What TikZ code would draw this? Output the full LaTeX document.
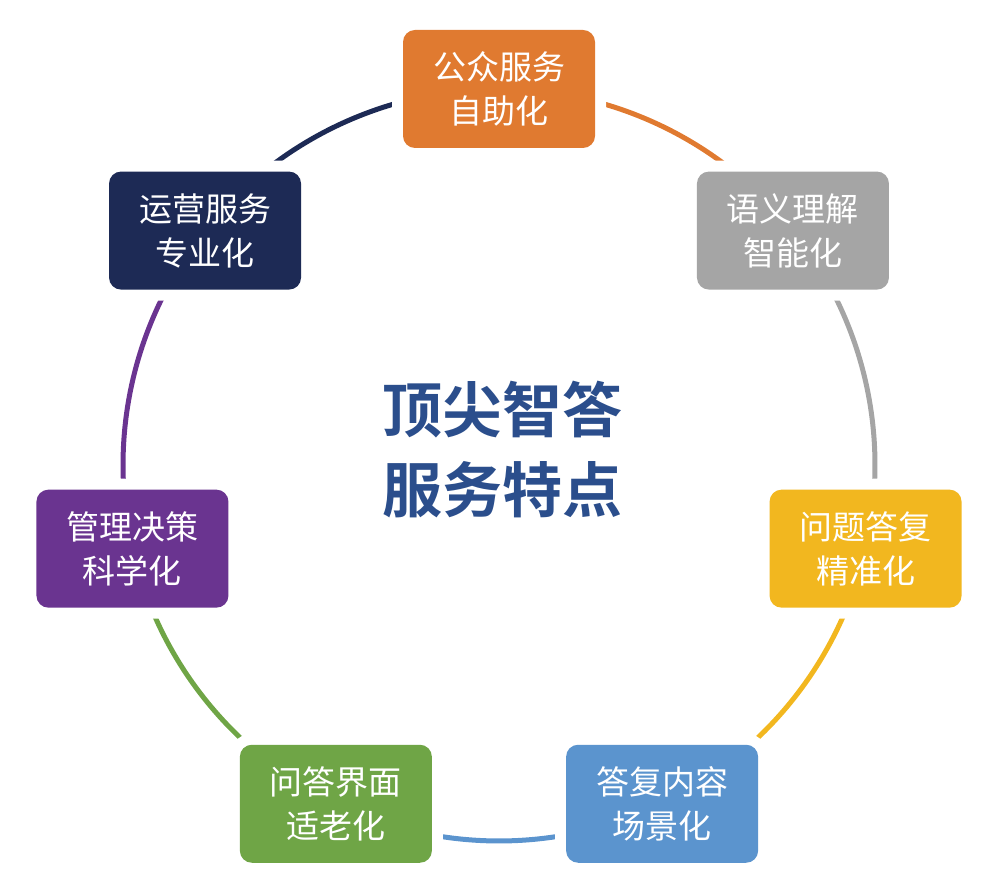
\documentclass[tikz,border=0pt]{standalone}
\usepackage{fontspec}
\usetikzlibrary{calc}
\newfontfamily\cjk{Noto Sans CJK SC}
\newfontfamily\cjkb{Noto Sans CJK SC Bold}
\definecolor{corange}{HTML}{E07A30}
\definecolor{cgray}{HTML}{A5A5A5}
\definecolor{cyellow}{HTML}{F2B71F}
\definecolor{cblue}{HTML}{5B94CE}
\definecolor{cgreen}{HTML}{6FA546}
\definecolor{cpurple}{HTML}{6A3490}
\definecolor{cnavy}{HTML}{1D2A55}
\definecolor{ctitle}{HTML}{2B4E8C}
\begin{document}
\begin{tikzpicture}[x=1pt,y=1pt,
  box/.style={fill=#1, rounded corners=12pt, minimum width=192pt, minimum height=118pt,
    inner sep=0pt, text=white, align=center, font=\cjk\fontsize{33}{44}\selectfont,
    preaction={draw=white, line width=22pt}},
  ring/.style={line width=5pt, draw=#1}]
\useasboundingbox (0,0) rectangle (1000,887);
\coordinate (c) at (499,422);
\def\R{376}
\foreach \i/\col in {0/corange,1/cgray,2/cyellow,3/cblue,4/cgreen,5/cpurple,6/cnavy}{
  \pgfmathsetmacro{\a}{90-51.4286*\i}
  \draw[ring=\col] ($(c)+(\a:\R)$) arc[start angle=\a, end angle=\a-51.4286, radius=\R];
}
\node[box=corange] (b0) at ($(c)+(90:\R)$) {公众服务\\自助化};
\node[box=cgray] (b1) at ($(c)+(38.571:\R)$) {语义理解\\智能化};
\node[box=cyellow] (b2) at ($(c)+(-12.857:\R)$) {问题答复\\精准化};
\node[box=cblue] (b3) at ($(c)+(-64.286:\R)$) {答复内容\\场景化};
\node[box=cgreen] (b4) at ($(c)+(-115.714:\R)$) {问答界面\\适老化};
\node[box=cpurple] (b5) at ($(c)+(-167.143:\R)$) {管理决策\\科学化};
\node[box=cnavy] (b6) at ($(c)+(141.429:\R)$) {运营服务\\专业化};
\node[align=center, text=ctitle, font=\cjkb\fontsize{60}{80}\selectfont] (t) at (502,437) {顶尖智答\\服务特点};
\end{tikzpicture}
\end{document}
